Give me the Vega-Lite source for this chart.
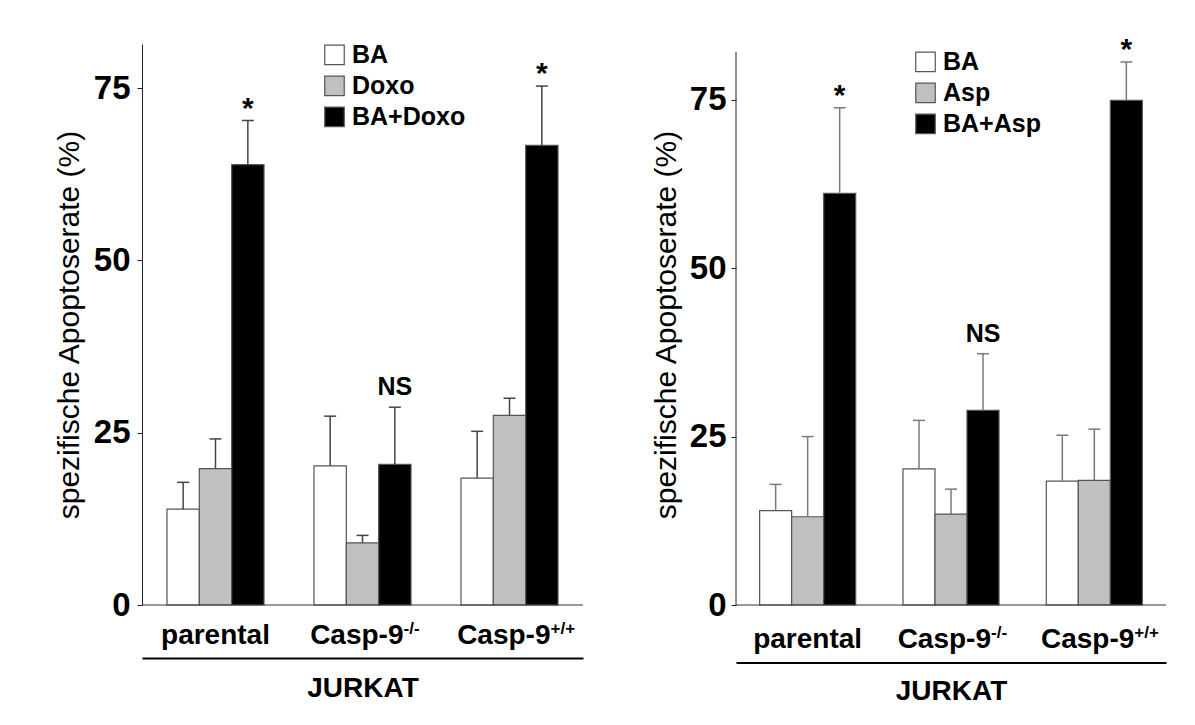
{
  "$schema": "https://vega.github.io/schema/vega-lite/v6.json",
  "background": "white",
  "padding": {"left": 54, "top": 34, "right": 5, "bottom": 5},
  "spacing": 67,
  "config": {
    "font": "Liberation Sans",
    "view": {"stroke": null},
    "axis": {"labelColor": "black", "titleColor": "black"},
    "legend": {
      "symbolType": "square",
      "symbolSize": 380,
      "symbolStrokeColor": "#555",
      "symbolStrokeWidth": 1.2,
      "symbolOpacity": 1,
      "labelFontSize": 25,
      "labelFontWeight": "bold",
      "labelColor": "black",
      "labelOffset": 5,
      "rowPadding": 5,
      "padding": 0
    }
  },
  "resolve": {
    "scale": {"x": "independent", "y": "independent", "xOffset": "independent", "color": "independent"},
    "legend": {"color": "independent"}
  },
  "datasets": {
    "doxo": [
      {"line": "parental", "treatment": "BA", "mean": 13.9, "upper": 17.8, "sig": ""},
      {"line": "parental", "treatment": "Doxo", "mean": 19.8, "upper": 24.1, "sig": ""},
      {"line": "parental", "treatment": "BA+Doxo", "mean": 63.9, "upper": 70.3, "sig": "*"},
      {"line": "Casp-9-/-", "treatment": "BA", "mean": 20.2, "upper": 27.4, "sig": ""},
      {"line": "Casp-9-/-", "treatment": "Doxo", "mean": 9.0, "upper": 10.1, "sig": ""},
      {"line": "Casp-9-/-", "treatment": "BA+Doxo", "mean": 20.4, "upper": 28.7, "sig": "NS"},
      {"line": "Casp-9+/+", "treatment": "BA", "mean": 18.4, "upper": 25.2, "sig": ""},
      {"line": "Casp-9+/+", "treatment": "Doxo", "mean": 27.5, "upper": 30.0, "sig": ""},
      {"line": "Casp-9+/+", "treatment": "BA+Doxo", "mean": 66.7, "upper": 75.3, "sig": "*"}
    ],
    "asp": [
      {"line": "parental", "treatment": "BA", "mean": 14.0, "upper": 17.9, "sig": ""},
      {"line": "parental", "treatment": "Asp", "mean": 13.1, "upper": 25.0, "sig": ""},
      {"line": "parental", "treatment": "BA+Asp", "mean": 61.1, "upper": 73.8, "sig": "*"},
      {"line": "Casp-9-/-", "treatment": "BA", "mean": 20.2, "upper": 27.4, "sig": ""},
      {"line": "Casp-9-/-", "treatment": "Asp", "mean": 13.5, "upper": 17.2, "sig": ""},
      {"line": "Casp-9-/-", "treatment": "BA+Asp", "mean": 28.9, "upper": 37.3, "sig": "NS"},
      {"line": "Casp-9+/+", "treatment": "BA", "mean": 18.4, "upper": 25.2, "sig": ""},
      {"line": "Casp-9+/+", "treatment": "Asp", "mean": 18.5, "upper": 26.1, "sig": ""},
      {"line": "Casp-9+/+", "treatment": "BA+Asp", "mean": 74.9, "upper": 80.6, "sig": "*"}
    ],
    "lines": [
      {"line": "parental", "base": "parental", "sup": ""},
      {"line": "Casp-9-/-", "base": "Casp-9", "sup": "-/-"},
      {"line": "Casp-9+/+", "base": "Casp-9", "sup": "+/+"}
    ],
    "asp_axis": [
      {"edge": 0, "mean": 0, "upper": 82.1}
    ]
  },
  "hconcat": [
    {
      "width": 441,
      "height": 561,
      "layer": [
        {
          "data": {"name": "doxo"},
          "mark": {"type": "bar", "stroke": "#555", "strokeWidth": 1.2},
          "encoding": {
            "x": {
              "field": "line", "type": "nominal",
              "scale": {"domain": ["parental", "Casp-9-/-", "Casp-9+/+"], "paddingInner": 0.34, "paddingOuter": 0.17},
              "axis": {"title": "JURKAT", "labels": false, "ticks": false, "domain": true, "domainColor": "black", "domainWidth": 2, "offset": 53, "titleFontSize": 28, "titleFontWeight": "bold", "titlePadding": 16}
            },
            "xOffset": {"field": "treatment", "type": "nominal", "scale": {"domain": ["BA", "Doxo", "BA+Doxo"], "paddingInner": 0, "paddingOuter": 0}},
            "y": {
              "field": "mean", "type": "quantitative",
              "scale": {"domain": [0, 81.4], "nice": false},
              "axis": {"title": "spezifische Apoptoserate (%)", "values": [0, 25, 50, 75], "grid": false, "domainColor": "#222", "tickColor": "#222", "tickSize": 5, "labelFontSize": 33, "labelFontWeight": "bold", "labelPadding": 7, "titleFontSize": 30, "titleFontWeight": "normal", "titlePadding": 9}
            },
            "color": {
              "field": "treatment", "type": "nominal",
              "scale": {"domain": ["BA", "Doxo", "BA+Doxo"], "range": ["#ffffff", "#c0c0c0", "#000000"]},
              "legend": {"title": null, "orient": "none", "legendX": 180, "legendY": -1.6}
            }
          }
        },
        {
          "data": {"name": "doxo"},
          "mark": {"type": "rule", "color": "#444", "strokeWidth": 1.5},
          "encoding": {
            "x": {"field": "line", "type": "nominal"},
            "xOffset": {"field": "treatment", "type": "nominal"},
            "y": {"field": "mean", "type": "quantitative"},
            "y2": {"field": "upper"}
          }
        },
        {
          "data": {"name": "doxo"},
          "mark": {"type": "tick", "color": "#444", "thickness": 1.5, "size": 12, "opacity": 1},
          "encoding": {
            "x": {"field": "line", "type": "nominal"},
            "xOffset": {"field": "treatment", "type": "nominal"},
            "y": {"field": "upper", "type": "quantitative"}
          }
        },
        {
          "data": {"values": [{"base": 0}]},
          "mark": {"type": "rule", "color": "#333", "strokeWidth": 1},
          "encoding": {"y": {"field": "base", "type": "quantitative"}}
        },
        {
          "data": {"name": "doxo"},
          "transform": [{"filter": "datum.sig === '*'"}],
          "mark": {"type": "text", "fontSize": 30, "fontWeight": "bold", "baseline": "alphabetic", "dy": -3, "color": "black"},
          "encoding": {
            "x": {"field": "line", "type": "nominal"},
            "xOffset": {"field": "treatment", "type": "nominal"},
            "y": {"field": "upper", "type": "quantitative"},
            "text": {"field": "sig"}
          }
        },
        {
          "data": {"name": "doxo"},
          "transform": [{"filter": "datum.sig === 'NS'"}],
          "mark": {"type": "text", "fontSize": 25, "fontWeight": "bold", "baseline": "alphabetic", "dy": -12, "color": "black"},
          "encoding": {
            "x": {"field": "line", "type": "nominal"},
            "xOffset": {"field": "treatment", "type": "nominal"},
            "y": {"field": "upper", "type": "quantitative"},
            "text": {"field": "sig"}
          }
        },
        {
          "data": {"name": "lines"},
          "transform": [{"filter": "datum.sup === ''"}],
          "mark": {"type": "text", "fontSize": 28, "fontWeight": "bold", "baseline": "alphabetic", "align": "center", "dy": 38.5, "color": "black"},
          "encoding": {
            "x": {"field": "line", "type": "nominal"},
            "y": {"datum": 0, "type": "quantitative"},
            "text": {"field": "base"}
          }
        },
        {
          "data": {"name": "lines"},
          "transform": [{"filter": "datum.sup !== ''"}],
          "mark": {"type": "text", "fontSize": 28, "fontWeight": "bold", "baseline": "alphabetic", "align": "right", "dx": 41, "dy": 38.5, "color": "black"},
          "encoding": {
            "x": {"field": "line", "type": "nominal"},
            "y": {"datum": 0, "type": "quantitative"},
            "text": {"field": "base"}
          }
        },
        {
          "data": {"name": "lines"},
          "transform": [{"filter": "datum.sup !== ''"}],
          "mark": {"type": "text", "fontSize": 17, "fontWeight": "bold", "baseline": "alphabetic", "align": "left", "dx": 41, "dy": 29, "color": "black"},
          "encoding": {
            "x": {"field": "line", "type": "nominal"},
            "y": {"datum": 0, "type": "quantitative"},
            "text": {"field": "sup"}
          }
        }
      ]
    },
    {
      "width": 430,
      "height": 561,
      "resolve": {"scale": {"x": "independent"}, "axis": {"x": "independent"}},
      "layer": [
        {
          "layer": [
            {
              "data": {"name": "asp"},
              "mark": {"type": "bar", "stroke": "#555", "strokeWidth": 1.2},
              "encoding": {
                "x": {
                  "field": "line", "type": "nominal",
                  "scale": {"domain": ["parental", "Casp-9-/-", "Casp-9+/+"], "paddingInner": 0.33, "paddingOuter": 0.165},
                  "axis": {"title": "JURKAT", "labels": false, "ticks": false, "domain": true, "domainColor": "black", "domainWidth": 2, "offset": 57.4, "titleFontSize": 28, "titleFontWeight": "bold", "titlePadding": 15}
                },
                "xOffset": {"field": "treatment", "type": "nominal", "scale": {"domain": ["BA", "Asp", "BA+Asp"], "paddingInner": 0, "paddingOuter": 0}},
                "y": {
                  "field": "mean", "type": "quantitative",
                  "scale": {"domain": [0, 83.27], "nice": false},
                  "axis": {"title": "spezifische Apoptoserate (%)", "values": [0, 25, 50, 75], "grid": false, "domain": false, "tickColor": "#222", "tickSize": 5, "labelFontSize": 33, "labelFontWeight": "bold", "labelPadding": 5, "titleFontSize": 30, "titleFontWeight": "normal", "titlePadding": 8}
                },
                "color": {
                  "field": "treatment", "type": "nominal",
                  "scale": {"domain": ["BA", "Asp", "BA+Asp"], "range": ["#ffffff", "#c0c0c0", "#000000"]},
                  "legend": {"title": null, "orient": "none", "legendX": 177, "legendY": 5.4}
                }
              }
            },
            {
              "data": {"name": "asp"},
              "mark": {"type": "rule", "color": "#7a7a7a", "strokeWidth": 1.5},
              "encoding": {
                "x": {"field": "line", "type": "nominal"},
                "xOffset": {"field": "treatment", "type": "nominal"},
                "y": {"field": "mean", "type": "quantitative"},
                "y2": {"field": "upper"}
              }
            },
            {
              "data": {"name": "asp"},
              "mark": {"type": "tick", "color": "#7a7a7a", "thickness": 1.5, "size": 12, "opacity": 1},
              "encoding": {
                "x": {"field": "line", "type": "nominal"},
                "xOffset": {"field": "treatment", "type": "nominal"},
                "y": {"field": "upper", "type": "quantitative"}
              }
            },
            {
              "data": {"values": [{"base": 0}]},
              "mark": {"type": "rule", "color": "#333", "strokeWidth": 1},
              "encoding": {"y": {"field": "base", "type": "quantitative"}}
            },
            {
              "data": {"name": "asp"},
              "transform": [{"filter": "datum.sig === '*'"}],
              "mark": {"type": "text", "fontSize": 30, "fontWeight": "bold", "baseline": "alphabetic", "dy": -3, "color": "black"},
              "encoding": {
                "x": {"field": "line", "type": "nominal"},
                "xOffset": {"field": "treatment", "type": "nominal"},
                "y": {"field": "upper", "type": "quantitative"},
                "text": {"field": "sig"}
              }
            },
            {
              "data": {"name": "asp"},
              "transform": [{"filter": "datum.sig === 'NS'"}],
              "mark": {"type": "text", "fontSize": 25, "fontWeight": "bold", "baseline": "alphabetic", "dy": -12, "color": "black"},
              "encoding": {
                "x": {"field": "line", "type": "nominal"},
                "xOffset": {"field": "treatment", "type": "nominal"},
                "y": {"field": "upper", "type": "quantitative"},
                "text": {"field": "sig"}
              }
            },
            {
              "data": {"name": "lines"},
              "transform": [{"filter": "datum.sup === ''"}],
              "mark": {"type": "text", "fontSize": 28, "fontWeight": "bold", "baseline": "alphabetic", "align": "center", "dy": 43, "color": "black"},
              "encoding": {
                "x": {"field": "line", "type": "nominal"},
                "y": {"datum": 0, "type": "quantitative"},
                "text": {"field": "base"}
              }
            },
            {
              "data": {"name": "lines"},
              "transform": [{"filter": "datum.sup !== ''"}],
              "mark": {"type": "text", "fontSize": 28, "fontWeight": "bold", "baseline": "alphabetic", "align": "right", "dx": 40, "dy": 43, "color": "black"},
              "encoding": {
                "x": {"field": "line", "type": "nominal"},
                "y": {"datum": 0, "type": "quantitative"},
                "text": {"field": "base"}
              }
            },
            {
              "data": {"name": "lines"},
              "transform": [{"filter": "datum.sup !== ''"}],
              "mark": {"type": "text", "fontSize": 17, "fontWeight": "bold", "baseline": "alphabetic", "align": "left", "dx": 40, "dy": 33, "color": "black"},
              "encoding": {
                "x": {"field": "line", "type": "nominal"},
                "y": {"datum": 0, "type": "quantitative"},
                "text": {"field": "sup"}
              }
            }
          ]
        },
        {
          "data": {"name": "asp_axis"},
          "mark": {"type": "rule", "color": "#222", "strokeWidth": 1},
          "encoding": {
            "x": {"field": "edge", "type": "quantitative", "scale": {"domain": [0, 1]}, "axis": null},
            "y": {"field": "mean", "type": "quantitative"},
            "y2": {"field": "upper"}
          }
        }
      ]
    }
  ]
}
